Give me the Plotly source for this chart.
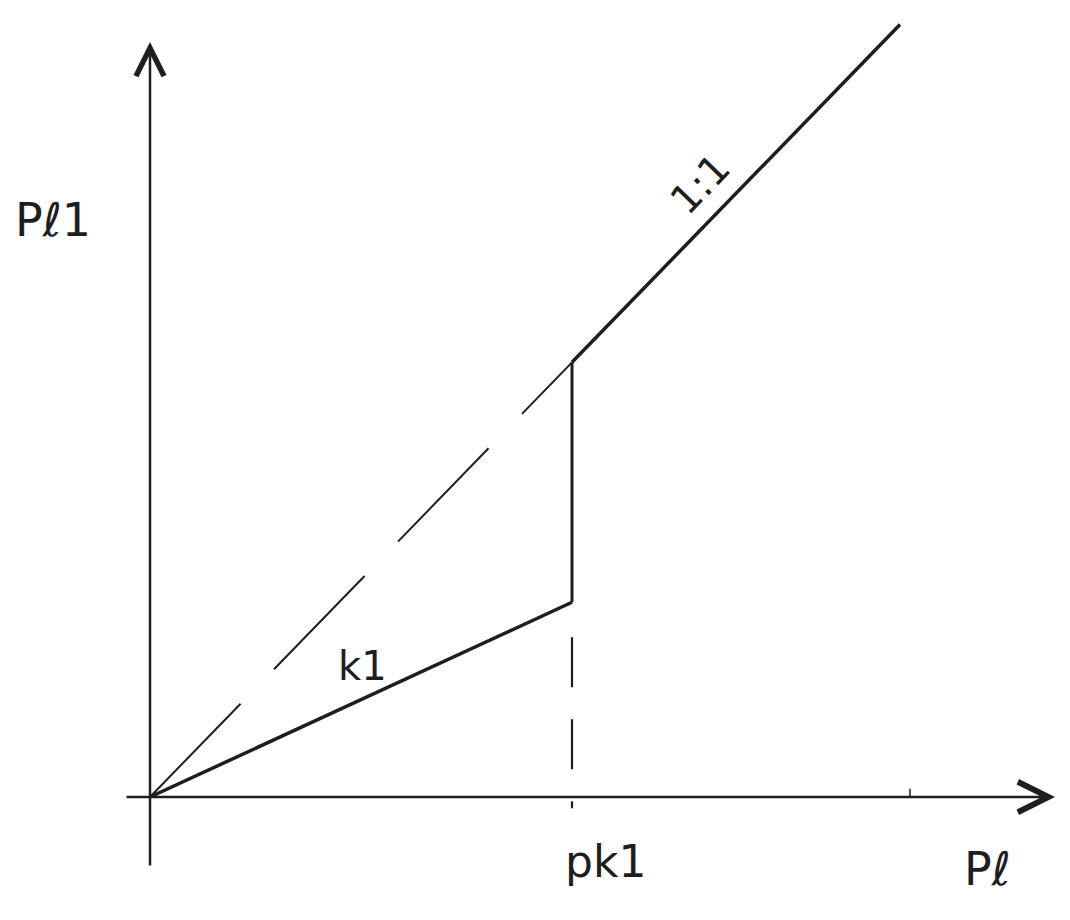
import plotly.graph_objects as go

# ---- data (arbitrary units) ----
pk1 = 4.22            # threshold P_k1 on the Pe axis
k1_slope = 0.448      # slope of the k1 segment below the threshold
pe_max = 7.5          # end of the 1:1 line
x_axis_span = [-0.25, 9.05]
y_axis_span = [-0.68, 7.33]
x_minor_tick = 7.6
guide_span = [-0.11, 1.55]   # dashed guide below the k1 end

k1_x = [0, pk1]
k1_y = [0, k1_slope * pk1]
jump_x = [pk1, pk1]
jump_y = [k1_slope * pk1, pk1]
one_x = [pk1, pe_max]
one_y = [pk1, pe_max]
diag_x = [0, pk1]
diag_y = [0, pk1]

INK = "#1e1e1e"
FONT = "DejaVu Sans"

fig = go.Figure()

# dashed 1:1 reference below the threshold
fig.add_trace(go.Scatter(x=diag_x, y=diag_y, mode="lines",
                         line=dict(color=INK, width=2, dash="130px,48px")))
# dashed vertical guide at pk1
fig.add_trace(go.Scatter(x=[pk1, pk1], y=[guide_span[1], guide_span[0]], mode="lines",
                         line=dict(color=INK, width=2.2, dash="50px,32px")))
# k1 segment
fig.add_trace(go.Scatter(x=k1_x, y=k1_y, mode="lines",
                         line=dict(color=INK, width=3.5)))
# vertical jump
fig.add_trace(go.Scatter(x=jump_x, y=jump_y, mode="lines",
                         line=dict(color=INK, width=3)))
# 1:1 segment
fig.add_trace(go.Scatter(x=one_x, y=one_y, mode="lines",
                         line=dict(color=INK, width=3.5)))
# minor tick on the Pe axis
fig.add_trace(go.Scatter(x=[x_minor_tick, x_minor_tick], y=[0, 0.08], mode="lines",
                         line=dict(color=INK, width=1.5)))

annotations = [
    # axes with arrowheads
    dict(x=x_axis_span[1], y=0, ax=x_axis_span[0], ay=0, xref="x", yref="y",
         axref="x", ayref="y", showarrow=True, arrowhead=5, arrowsize=2.4,
         arrowwidth=2.5, arrowcolor=INK, text=""),
    dict(x=0, y=y_axis_span[1], ax=0, ay=y_axis_span[0], xref="x", yref="y",
         axref="x", ayref="y", showarrow=True, arrowhead=5, arrowsize=2.2,
         arrowwidth=2.5, arrowcolor=INK, text=""),
    # labels
    dict(x=-0.97, y=5.6, text="Pℓ1", showarrow=False, xref="x", yref="y",
         font=dict(family=FONT, size=46, color=INK)),
    dict(x=5.5, y=5.95, text="1:1", showarrow=False, xref="x", yref="y",
         textangle=-46, font=dict(family=FONT, size=40, color=INK)),
    dict(x=2.12, y=1.27, text="k1", showarrow=False, xref="x", yref="y",
         font=dict(family=FONT, size=40, color=INK)),
    dict(x=4.55, y=-0.63, text="pk1", showarrow=False, xref="x", yref="y",
         font=dict(family=FONT, size=44, color=INK)),
    dict(x=8.37, y=-0.7, text="Pℓ", showarrow=False, xref="x", yref="y",
         font=dict(family=FONT, size=46, color=INK)),
]

# page adds an 8px body margin; shift the ranges so the origin lands at (150, 797)
x0 = -1.42
y_top = 789 / 103
fig.update_layout(
    width=1070, height=920,
    margin=dict(l=0, r=0, t=0, b=0),
    paper_bgcolor="white", plot_bgcolor="white",
    showlegend=False,
    xaxis=dict(range=[x0, x0 + 10.7], visible=False, fixedrange=True),
    yaxis=dict(range=[y_top - 920 / 103, y_top], visible=False, fixedrange=True),
    annotations=annotations,
)

fig.write_html("out.html")
